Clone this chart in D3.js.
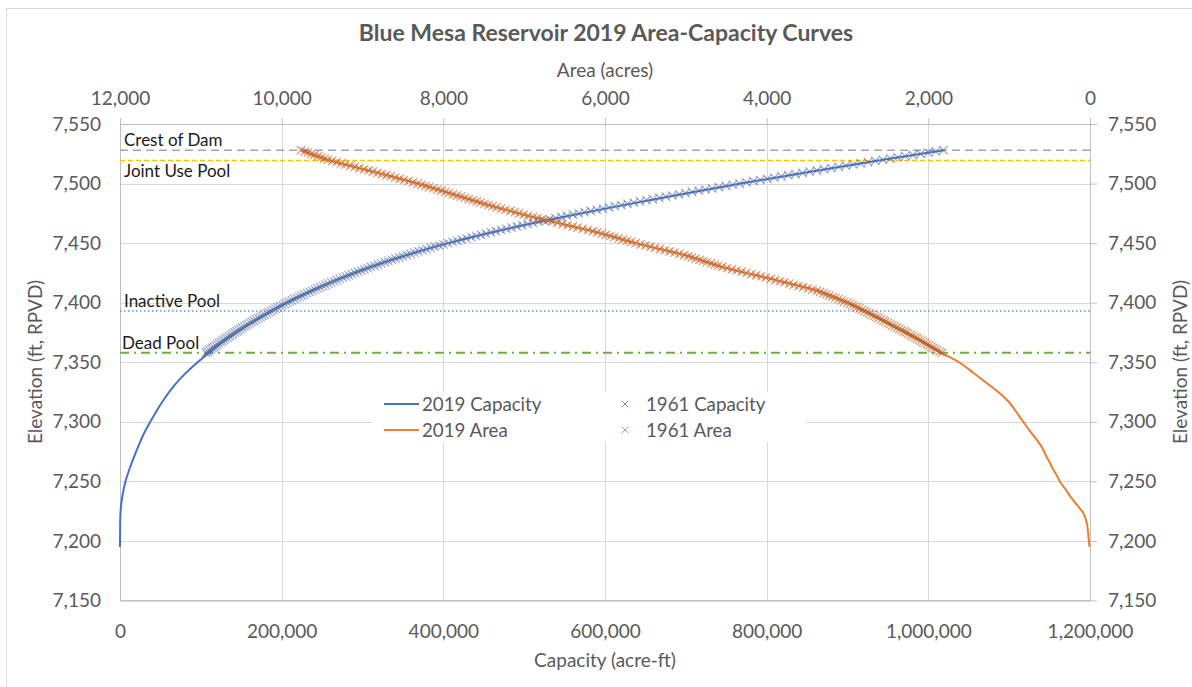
<!DOCTYPE html>
<html>
<head>
<meta charset="utf-8">
<script src="https://cdn.jsdelivr.net/npm/d3@7"></script>
<style>
  body { margin: 0; background: #fff; }
  svg text { font-family: Lato, "Open Sans", sans-serif; }
</style>
</head>
<body>
<svg width="1192" height="687"></svg>
<script>
// axis ticks
const elevTicks = [7150, 7200, 7250, 7300, 7350, 7400, 7450, 7500, 7550];
const capTicks = [0, 200000, 400000, 600000, 800000, 1000000, 1200000];
const areaTicks = [12000, 10000, 8000, 6000, 4000, 2000, 0];

// 2019 capacity curve (ft, acre-ft)
const elevCap2019 = [7195, 7200, 7210, 7220, 7230, 7240, 7250, 7260, 7270, 7280, 7290, 7300, 7310, 7320, 7330, 7340, 7350, 7360, 7370, 7380, 7390, 7400, 7410, 7420, 7430, 7440, 7450, 7460, 7470, 7480, 7490, 7500, 7510, 7520, 7528];
const cap2019 = [0, 40, 150, 400, 1400, 3600, 6800, 11500, 17000, 23000, 29500, 37500, 46000, 55500, 66500, 80000, 96000, 114000, 134000, 156000, 180000, 206000, 237000, 271000, 310000, 355000, 406000, 466000, 534000, 608000, 686000, 768000, 854000, 944000, 1019000];

// 2019 area curve (ft, acres)
const elevArea2019 = [7195, 7200, 7204, 7210, 7215, 7220, 7224, 7230, 7238, 7244, 7249, 7255, 7260, 7266, 7271, 7278, 7285, 7292, 7300, 7308, 7316, 7323, 7330, 7341, 7350, 7360, 7370, 7380, 7390, 7400, 7410, 7420, 7430, 7440, 7450, 7460, 7470, 7480, 7490, 7500, 7510, 7520, 7528];
const area2019 = [5, 14, 20, 28, 40, 62, 88, 160, 250, 310, 365, 410, 455, 500, 540, 590, 660, 740, 825, 910, 995, 1100, 1230, 1440, 1620, 1890, 2150, 2420, 2700, 3000, 3380, 3950, 4550, 5020, 5620, 6150, 6780, 7340, 7830, 8320, 8870, 9430, 9760];

// 1961 survey, one value per foot
const elev1961 = [7358, 7359, 7360, 7361, 7362, 7363, 7364, 7365, 7366, 7367, 7368, 7369, 7370, 7371, 7372, 7373, 7374, 7375, 7376, 7377, 7378, 7379, 7380, 7381, 7382, 7383, 7384, 7385, 7386, 7387, 7388, 7389, 7390, 7391, 7392, 7393, 7394, 7395, 7396, 7397, 7398, 7399, 7400, 7401, 7402, 7403, 7404, 7405, 7406, 7407, 7408, 7409, 7410, 7411, 7412, 7413, 7414, 7415, 7416, 7417, 7418, 7419, 7420, 7421, 7422, 7423, 7424, 7425, 7426, 7427, 7428, 7429, 7430, 7431, 7432, 7433, 7434, 7435, 7436, 7437, 7438, 7439, 7440, 7441, 7442, 7443, 7444, 7445, 7446, 7447, 7448, 7449, 7450, 7451, 7452, 7453, 7454, 7455, 7456, 7457, 7458, 7459, 7460, 7461, 7462, 7463, 7464, 7465, 7466, 7467, 7468, 7469, 7470, 7471, 7472, 7473, 7474, 7475, 7476, 7477, 7478, 7479, 7480, 7481, 7482, 7483, 7484, 7485, 7486, 7487, 7488, 7489, 7490, 7491, 7492, 7493, 7494, 7495, 7496, 7497, 7498, 7499, 7500, 7501, 7502, 7503, 7504, 7505, 7506, 7507, 7508, 7509, 7510, 7511, 7512, 7513, 7514, 7515, 7516, 7517, 7518, 7519, 7520, 7521, 7522, 7523, 7524, 7525, 7526, 7527, 7528];
const cap1961 = [106500, 108400, 110300, 112300, 114300, 116300, 118300, 120400, 122500, 124600, 126700, 128800, 130900, 133100, 135300, 137500, 139700, 142000, 144300, 146600, 148900, 151300, 153700, 156100, 158500, 161000, 163500, 166000, 168500, 171100, 173700, 176300, 178900, 181600, 184300, 187000, 189700, 192500, 195300, 198100, 201000, 203900, 206800, 209800, 212800, 215800, 218900, 222000, 225100, 228200, 231400, 234600, 237800, 241100, 244400, 247700, 251000, 254400, 257800, 261300, 264800, 268300, 271900, 275600, 279300, 283000, 286800, 290600, 294500, 298400, 302400, 306400, 310500, 314700, 318900, 323200, 327500, 331900, 336300, 340800, 345400, 350000, 354700, 359500, 364300, 369200, 374200, 379300, 384400, 389600, 394900, 400300, 405800, 411400, 417100, 422900, 428700, 434600, 440600, 446600, 452700, 458900, 465100, 471500, 477900, 484400, 491000, 497600, 504300, 511000, 517800, 524700, 531600, 538700, 545800, 553000, 560200, 567500, 574800, 582200, 589700, 597200, 604800, 612400, 620100, 627800, 635600, 643400, 651300, 659200, 667200, 675200, 683300, 691400, 699600, 707800, 716000, 724300, 732600, 741000, 749400, 757900, 766400, 774900, 783500, 792100, 800700, 809400, 818100, 826800, 835600, 844400, 853200, 862100, 871000, 880000, 889000, 898000, 907100, 916200, 925300, 934500, 943700, 952900, 962200, 971500, 980900, 990300, 999700, 1009200, 1018700];
const area1961 = [1830, 1860, 1890, 1915, 1940, 1965, 1990, 2015, 2040, 2065, 2090, 2115, 2140, 2165, 2195, 2220, 2250, 2275, 2300, 2330, 2360, 2390, 2420, 2445, 2475, 2500, 2530, 2555, 2585, 2615, 2640, 2670, 2700, 2730, 2760, 2790, 2820, 2850, 2880, 2910, 2940, 2970, 3000, 3040, 3075, 3110, 3150, 3185, 3225, 3265, 3300, 3340, 3380, 3435, 3490, 3550, 3605, 3665, 3720, 3780, 3835, 3895, 3950, 4010, 4070, 4130, 4190, 4250, 4310, 4370, 4430, 4490, 4550, 4600, 4645, 4690, 4740, 4785, 4830, 4880, 4925, 4970, 5020, 5080, 5140, 5200, 5260, 5320, 5380, 5440, 5500, 5560, 5620, 5675, 5725, 5780, 5830, 5885, 5935, 5990, 6040, 6095, 6150, 6210, 6275, 6340, 6400, 6465, 6525, 6590, 6655, 6715, 6780, 6835, 6890, 6950, 7005, 7060, 7115, 7170, 7230, 7285, 7340, 7390, 7440, 7490, 7540, 7585, 7635, 7685, 7735, 7780, 7830, 7880, 7930, 7975, 8025, 8075, 8125, 8175, 8220, 8270, 8320, 8375, 8430, 8485, 8540, 8595, 8650, 8705, 8760, 8815, 8870, 8925, 8980, 9040, 9095, 9150, 9210, 9265, 9320, 9375, 9430, 9470, 9510, 9550, 9595, 9635, 9675, 9715, 9760];

// pool levels
const poolNames = ["Crest of Dam", "Joint Use Pool", "Inactive Pool", "Dead Pool"];
const poolElev = [7528, 7519.4, 7393, 7358];
const poolColor = ["#a5a5a5", "#ffc000", "#5b9bd5", "#70ad47"];
const poolDash = ["8,5", "5,3", "1.5,2.5", "9,5,2,5"];
const poolLabelDy = [-4, 17, -4, -4];

const seriesNames = ["2019 Capacity", "2019 Area", "1961 Capacity", "1961 Area"];

const svg = d3.select("svg");
const textCol = "#595959";

svg.append("rect").attr("x", 6.5).attr("y", 8.5).attr("width", 1200).attr("height", 700)
    .attr("fill", "#fff").attr("stroke", "#d9d9d9");

// scales
const x = d3.scaleLinear().domain([0, 1200000]).range([120, 1090]);
const xa = d3.scaleLinear().domain([12000, 0]).range([120, 1090]);
const y = d3.scaleLinear().domain([7150, 7550]).range([600.5, 124]);

// gridlines
const grid = svg.append("g");
grid.selectAll(".v").data(capTicks).enter().append("line")
    .attr("x1", d => Math.round(x(d)) + 0.5).attr("x2", d => Math.round(x(d)) + 0.5)
    .attr("y1", 124).attr("y2", 600.5)
    .attr("stroke", "#d9d9d9");
grid.selectAll(".h").data(elevTicks).enter().append("line")
    .attr("x1", 120).attr("x2", 1090)
    .attr("y1", d => Math.round(y(d)) + 0.5).attr("y2", d => Math.round(y(d)) + 0.5)
    .attr("stroke", "#d9d9d9");

// axes
const fmt = d3.format(",");
function styleAxis(g) {
    g.select(".domain").remove();
    g.selectAll(".tick line").attr("stroke", "#bfbfbf");
    g.selectAll("text").attr("fill", textCol).style("font-size", "19px");
}
svg.append("g").attr("transform", "translate(0,600.5)")
    .call(d3.axisBottom(x).tickValues(capTicks).tickFormat(fmt).tickSize(0).tickPadding(24))
    .call(styleAxis);
svg.append("g").attr("transform", "translate(0,124)")
    .call(d3.axisTop(xa).tickValues(areaTicks).tickFormat(fmt).tickSize(6).tickPadding(13))
    .call(styleAxis);
svg.append("g").attr("transform", "translate(120,0)")
    .call(d3.axisLeft(y).tickValues(elevTicks).tickFormat(fmt).tickSize(0).tickPadding(19))
    .call(styleAxis);
svg.append("g").attr("transform", "translate(1090,0)")
    .call(d3.axisRight(y).tickValues(elevTicks).tickFormat(fmt).tickSize(7).tickPadding(11))
    .call(styleAxis);

// frame lines
svg.append("path").attr("d", "M120.5,124V600.5H1090.5V124").attr("fill", "none").attr("stroke", "#bfbfbf");
svg.append("line").attr("x1", 120).attr("x2", 1090).attr("y1", 124.5).attr("y2", 124.5).attr("stroke", "#bfbfbf");

// titles
svg.append("text").attr("x", 606).attr("y", 41).attr("text-anchor", "middle")
    .attr("fill", textCol).style("font-size", "23px").style("font-weight", "bold")
    .text("Blue Mesa Reservoir 2019 Area-Capacity Curves");
svg.append("text").attr("x", 605).attr("y", 77).attr("text-anchor", "middle")
    .attr("fill", textCol).style("font-size", "19px").text("Area (acres)");
svg.append("text").attr("x", 605).attr("y", 667).attr("text-anchor", "middle")
    .attr("fill", textCol).style("font-size", "19px").text("Capacity (acre-ft)");
svg.append("text").attr("transform", "translate(42,362) rotate(-90)").attr("text-anchor", "middle")
    .attr("fill", textCol).style("font-size", "19px").text("Elevation (ft, RPVD)");
svg.append("text").attr("transform", "translate(1187,362) rotate(-90)").attr("text-anchor", "middle")
    .attr("fill", textCol).style("font-size", "19px").text("Elevation (ft, RPVD)");

// pool lines
const pools = svg.append("g");
poolElev.forEach((e, i) => {
    pools.append("line").attr("x1", 120).attr("x2", 1090)
        .attr("y1", y(e)).attr("y2", y(e))
        .attr("stroke", poolColor[i]).attr("stroke-width", i == 3 ? 2 : 1.6)
        .attr("stroke-dasharray", poolDash[i]);
    pools.append("text").attr("x", i == 3 ? 122 : 124).attr("y", y(e) + poolLabelDy[i])
        .attr("fill", "#1a1a1a").style("font-size", "17px").text(poolNames[i]);
});

// 2019 curves
const capLine = d3.line().x(d => x(d[0])).y(d => y(d[1])).curve(d3.curveMonotoneY);
const areaLine = d3.line().x(d => xa(d[0])).y(d => y(d[1])).curve(d3.curveMonotoneY);

svg.append("path").datum(cap2019.map((c, i) => [c, elevCap2019[i]]))
    .attr("d", capLine).attr("fill", "none").attr("stroke", "#4472c4").attr("stroke-width", 2);
svg.append("path").datum(area2019.map((a, i) => [a, elevArea2019[i]]))
    .attr("d", areaLine).attr("fill", "none").attr("stroke", "#ed7d31").attr("stroke-width", 2);

// 1961 markers
const xMark = d3.symbol(d3.symbolX).size(48);
svg.append("g").selectAll("path").data(cap1961).enter().append("path")
    .attr("transform", (d, i) => "translate(" + x(d) + "," + y(elev1961[i]) + ")")
    .attr("d", xMark).attr("fill", "none").attr("stroke", "#5b70a3").attr("stroke-opacity", 0.65).attr("stroke-width", 1.1);
svg.append("g").selectAll("path").data(area1961).enter().append("path")
    .attr("transform", (d, i) => "translate(" + xa(d) + "," + y(elev1961[i]) + ")")
    .attr("d", xMark).attr("fill", "none").attr("stroke", "#b85a22").attr("stroke-opacity", 0.65).attr("stroke-width", 1.1);

// legend
const lg = svg.append("g");
lg.append("rect").attr("x", 372).attr("y", 392).attr("width", 434).attr("height", 50).attr("fill", "#fff");
[[384, 404, "#4472c4"], [384, 430, "#ed7d31"]].forEach((p, i) => {
    lg.append("line").attr("x1", p[0]).attr("x2", p[0] + 35).attr("y1", p[1]).attr("y2", p[1])
        .attr("stroke", p[2]).attr("stroke-width", 2);
    lg.append("text").attr("x", 422).attr("y", p[1] + 6.5).attr("fill", textCol)
        .style("font-size", "18.7px").text(seriesNames[i]);
});
const legMark = d3.symbol(d3.symbolX).size(30);
[[625, 404, "#7f8db3"], [625, 430, "#d49a77"]].forEach((p, i) => {
    lg.append("path").attr("transform", "translate(" + p[0] + "," + p[1] + ")")
        .attr("d", legMark).attr("fill", "none").attr("stroke", p[2]).attr("stroke-width", 1);
    lg.append("text").attr("x", 646).attr("y", p[1] + 6.5).attr("fill", textCol)
        .style("font-size", "18.7px").text(seriesNames[i + 2]);
});
</script>
</body>
</html>
